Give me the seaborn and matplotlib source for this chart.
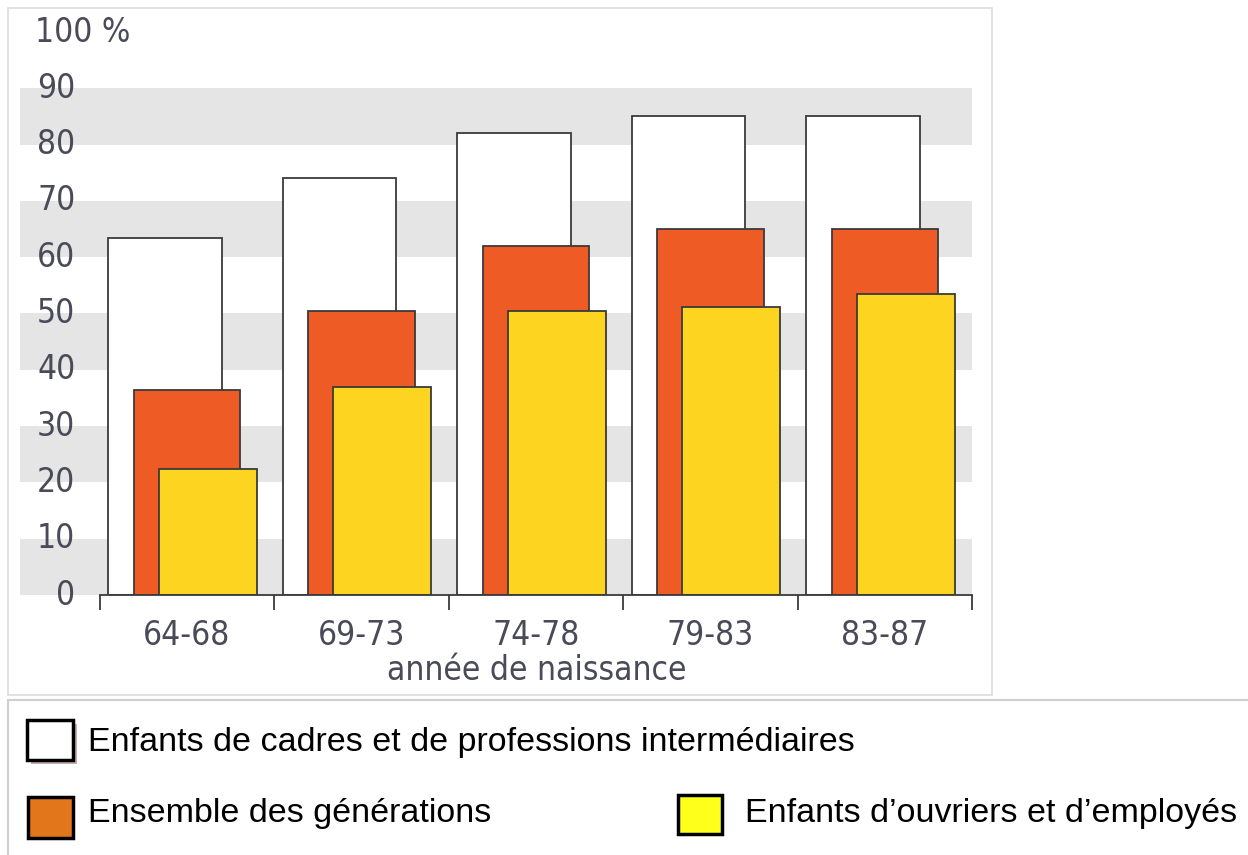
import numpy as np
import pandas as pd
import matplotlib
matplotlib.use("Agg")
import matplotlib.pyplot as plt
import matplotlib.patches as mpatches
import seaborn as sns

sns.set_style("white")
plt.rcParams['font.family'] = ['DejaVu Sans']
plt.rcParams['font.stretch'] = 'condensed'

periodes = ['64-68', '69-73', '74-78', '79-83', '83-87']
cadres = [63.4, 74.1, 82.0, 85.0, 85.0]
ensemble = [36.4, 50.4, 62.0, 65.0, 65.0]
ouvriers = [22.4, 36.9, 50.4, 51.2, 53.5]
yticks = [0, 10, 20, 30, 40, 50, 60, 70, 80, 90]

lab_cadres = 'Enfants de cadres et de professions intermédiaires'
lab_ensemble = 'Ensemble des générations'
lab_ouvriers = 'Enfants d\u2019ouvriers et d\u2019employés'

pos = np.arange(len(periodes))
df = pd.DataFrame({'pos': pos, 'cadres': cadres, 'ensemble': ensemble, 'ouvriers': ouvriers})

fig = plt.figure(figsize=(12.48, 8.55), dpi=100)
W, H = 1248, 855
ax = fig.add_axes([20 / W, (855 - 595) / H, (972 - 20) / W, (595 - 32) / H])

# bandes grises
for lo in range(0, 90, 20):
    ax.axhspan(lo, lo + 10, color='#e5e5e5', zorder=0, lw=0)

edge = '#3a3a3a'
sns.barplot(x=df['pos'] - 0.125, y=df['cadres'], native_scale=True, width=0.65,
            color='white', edgecolor=edge, linewidth=1.3, saturation=1, ax=ax, zorder=2)
sns.barplot(x=df['pos'] + 0.0, y=df['ensemble'], native_scale=True, width=0.61,
            color='#ee5b25', edgecolor=edge, linewidth=1.3, saturation=1, ax=ax, zorder=3)
sns.barplot(x=df['pos'] + 0.12, y=df['ouvriers'], native_scale=True, width=0.56,
            color='#fdd520', edgecolor=edge, linewidth=1.3, saturation=1, ax=ax, zorder=4)

ax.set_xlim(-0.957, 4.483)
ax.set_ylim(0, 100)
for s in ['top', 'right', 'left']:
    ax.spines[s].set_visible(False)
ax.spines['bottom'].set_bounds(-0.5, 4.5)
ax.spines['bottom'].set_color(edge)
ax.spines['bottom'].set_linewidth(1.3)
ax.spines['bottom'].set_zorder(5)

tcol = '#4a4a58'
ax.set_xticks(pos)
ax.set_xticklabels(periodes, fontsize=24, color=tcol)
ax.set_xticks(np.arange(-0.5, 5, 1), minor=True)
ax.tick_params(axis='x', which='major', length=0, pad=17, bottom=True)
ax.tick_params(axis='x', which='minor', length=11, width=1.3, color=edge,
               direction='out', bottom=True)
ax.set_yticks([])
ax.set_xlabel('année de naissance', fontsize=24, color=tcol)
ax.xaxis.set_label_coords((537 - 20) / 952, -0.105)
ax.set_ylabel('')

for v in yticks:
    ax.text(-0.64, v, str(v), ha='right', va='center', fontsize=24,
            color=tcol, zorder=6)
ax.text(35 / W, (855 - 32) / H, '100 %', transform=fig.transFigure, ha='left',
        va='center', fontsize=24, color=tcol)

# cadres
fig.add_artist(mpatches.Rectangle((8 / W, (855 - 695) / H), (992 - 8) / W, (695 - 8) / H,
                                  transform=fig.transFigure, fill=False,
                                  edgecolor='#dcdcdc', lw=1.2))
fig.add_artist(mpatches.Rectangle((8 / W, -0.01), 1.0, (855 - 700) / H + 0.01,
                                  transform=fig.transFigure, fill=False,
                                  edgecolor='#cfcfcf', lw=1.5))

# légende
def swatch(x0, y0, w, h, col, shadow=False):
    if shadow:
        fig.add_artist(mpatches.Rectangle(((x0 + 4) / W, (855 - y0 - h - 4) / H),
                                          w / W, h / H, transform=fig.transFigure,
                                          facecolor='#c9aeb0', edgecolor='none'))
    fig.add_artist(mpatches.Rectangle((x0 / W, (855 - y0 - h) / H), w / W, h / H,
                                      transform=fig.transFigure, facecolor=col,
                                      edgecolor='black', lw=2.5))

swatch(27, 720, 46, 40, 'white', shadow=True)
swatch(28, 797, 45, 41, '#e2761b')
swatch(678, 795, 44, 39, '#ffff1c')

lfont = ['Liberation Sans', 'DejaVu Sans']
for x0, y0, txt in [(88, 742, lab_cadres), (88, 813, lab_ensemble), (745, 813, lab_ouvriers)]:
    fig.text(x0 / W, (855 - y0) / H, txt, fontsize=24.5, family=lfont,
             stretch='normal', va='center', ha='left', color='black')

fig.savefig('out.png', dpi=100)
